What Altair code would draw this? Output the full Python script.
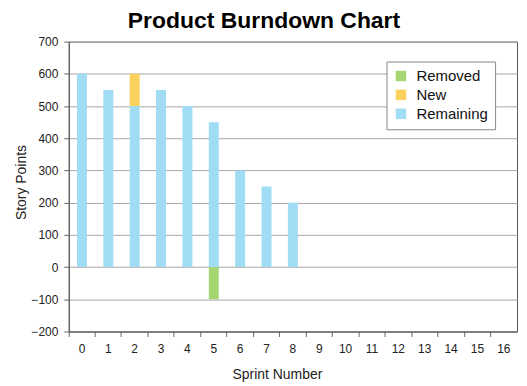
import altair as alt
import pandas as pd

sprints = [str(i) for i in range(17)]
remaining = [600, 550, 500, 550, 500, 450, 300, 250, 200]
new_points = {2: 100}
removed_points = {5: -100}

rows = []
for i, v in enumerate(remaining):
    rows.append({"sprint": str(i), "series": "Remaining", "value": v, "ord": 0})
for i, v in new_points.items():
    rows.append({"sprint": str(i), "series": "New", "value": v, "ord": 1})
for i, v in removed_points.items():
    rows.append({"sprint": str(i), "series": "Removed", "value": v, "ord": 2})
df = pd.DataFrame(rows)

series_order = ["Removed", "New", "Remaining"]
colors = ["#a6d672", "#fbd35c", "#a0dcf4"]

chart = alt.Chart(df).mark_bar(size=10).encode(
    x=alt.X("sprint:O", scale=alt.Scale(domain=sprints, paddingInner=0, paddingOuter=0),
            sort=sprints,
            axis=alt.Axis(title="Sprint Number", labelAngle=0, bandPosition=0, ticks=True,
                          tickSize=5, tickColor="#666", domainColor="#555",
                          labelFontSize=12, labelColor="#222", titleFontSize=14,
                          titleFontWeight="normal", titleColor="#222", labelPadding=7,
                          titleX=209, titleY=43, titleBaseline="middle",
                          labelFont="Liberation Sans", titleFont="Liberation Sans")),
    y=alt.Y("value:Q", stack="zero", scale=alt.Scale(domain=[-200, 700], nice=False),
            axis=alt.Axis(title="Story Points", values=list(range(-200, 701, 100)),
                          tickSize=5, tickColor="#666", domainColor="#555",
                          gridColor="#a8a8a8", labelFontSize=12, labelColor="#222",
                          titleFontSize=14, titleFontWeight="normal", titleColor="#222",
                          labelPadding=6, titleX=-47, titleY=141, titleAngle=-90,
                          titleBaseline="middle",
                          labelFont="Liberation Sans", titleFont="Liberation Sans")),
    color=alt.Color("series:N", scale=alt.Scale(domain=series_order, range=colors),
                    legend=alt.Legend(title=None, orient="none", legendX=319, legendY=20,
                                      fillColor="white", strokeColor="#888", padding=7,
                                      symbolType="square", symbolSize=110,
                                      symbolStrokeWidth=0, labelFontSize=15,
                                      labelColor="#111", labelFont="Liberation Sans",
                                      rowPadding=3, labelOffset=8, symbolOpacity=1)),
    order=alt.Order("ord:Q"),
).properties(
    width=450, height=291,
    title=alt.TitleParams("Product Burndown Chart", fontSize=23, fontWeight="bold",
                          font="Liberation Sans", color="#000", dx=-29, offset=3),
    autosize=alt.AutoSizeParams(type="none"),
    padding={"left": 61, "top": 33, "right": 2, "bottom": 54},
).configure_view(stroke="#555", strokeWidth=1)

chart.save("out.html", embed_options={"renderer": "svg", "actions": False})
